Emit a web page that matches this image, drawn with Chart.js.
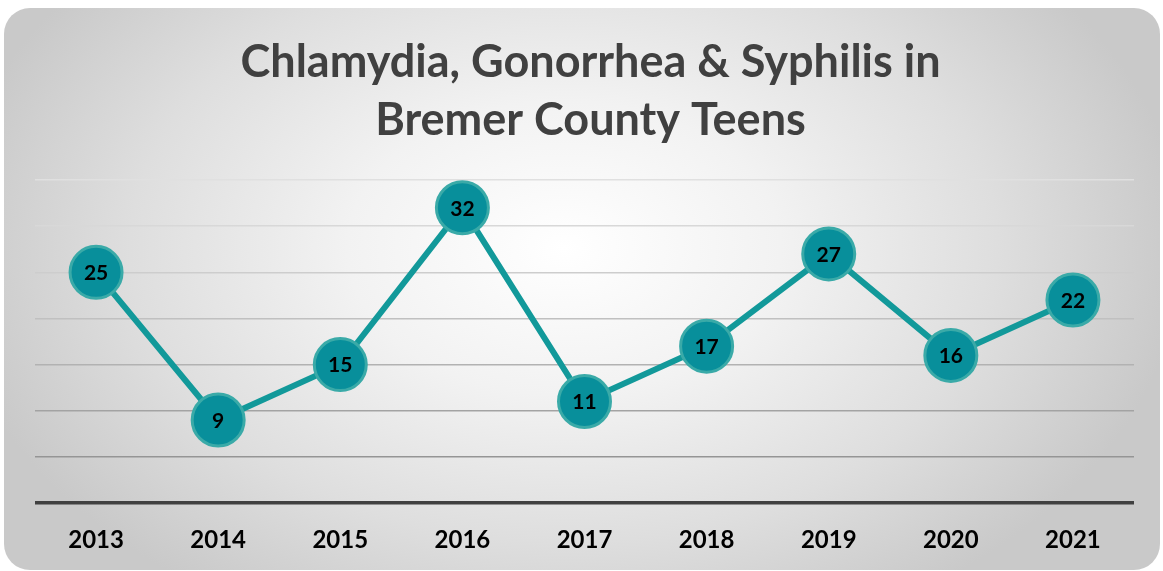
<!DOCTYPE html>
<html>
<head>
<meta charset="utf-8">
<script src="https://cdn.jsdelivr.net/npm/chart.js@4.4.1/dist/chart.umd.min.js"></script>
<style>
  html, body { margin: 0; padding: 0; background: #fff; }
  #wrap { position: relative; width: 1163px; height: 571px; overflow: hidden; }
  #card {
    position: absolute; left: 4px; top: 8px; width: 1156px; height: 562px;
    border-radius: 26px;
    background: radial-gradient(ellipse 620px 420px at 560px 240px, #ffffff 0%, #f2f2f2 35%, #dedede 70%, #c9c9c9 100%);
  }
  canvas { position: absolute; left: 0; top: 0; }
</style>
</head>
<body>
<div id="wrap">
  <div id="card"></div>
  <canvas id="myChart" width="1163" height="571"></canvas>
</div>
<script>
var years = ["2013", "2014", "2015", "2016", "2017", "2018", "2019", "2020", "2021"];
var cases = [25, 9, 15, 32, 11, 17, 27, 16, 22];
var titleLines = ["Chlamydia, Gonorrhea & Syphilis in", "Bremer County Teens"];

var fontFamily = 'Lato, "Open Sans", sans-serif';

// value labels drawn in the middle of each marker
var pointLabels = {
    id: 'pointLabels',
    afterDatasetsDraw: function(chart) {
        var c = chart.ctx;
        var meta = chart.getDatasetMeta(0);
        c.save();
        c.font = 'bold 21px ' + fontFamily;
        c.fillStyle = '#000';
        c.textAlign = 'center';
        c.textBaseline = 'middle';
        meta.data.forEach(function(pt, i) {
            c.fillText(String(cases[i]), pt.x, pt.y + 1);
        });
        c.restore();
    }
};

var gridShades = ['#404040', '#959595', '#a3a3a3', '#b2b2b2', '#c0c0c0', '#cdcdcd', '#d8d8d8', '#e0e0e0'];

var ctx = document.getElementById("myChart").getContext('2d');
var myLineChart = new Chart(ctx, {
    type: 'line',
    data: {
        labels: years,
        datasets: [{
            label: "Cases",
            data: cases,
            borderColor: "#12999a",
            borderWidth: 6,
            tension: 0,
            pointRadius: 26,
            pointHoverRadius: 26,
            pointBackgroundColor: "#088f9b",
            pointBorderColor: "#3aaaa8",
            pointBorderWidth: 3,
            fill: false
        }]
    },
    options: {
        responsive: false,
        animation: false,
        layout: {
            padding: { top: 33, left: 35, right: 17, bottom: 0 }
        },
        scales: {
            x: {
                offset: true,
                grid: { display: false },
                border: { display: false },
                ticks: {
                    color: '#000',
                    padding: 15,
                    font: { family: fontFamily, size: 24, weight: 'bold' }
                },
                afterFit: function(scale) { scale.height = 68; }
            },
            y: {
                min: 0,
                max: 35,
                ticks: { stepSize: 5, display: false },
                border: { display: false },
                grid: {
                    drawTicks: false,
                    lineWidth: function(c) { return c.index === 0 ? 3.5 : 1.5; },
                    color: function(c) { return gridShades[c.index] || '#e0e0e0'; }
                },
                afterFit: function(scale) { scale.width = 0; }
            }
        },
        plugins: {
            legend: { display: false },
            tooltip: { enabled: false },
            title: {
                display: true,
                text: titleLines,
                color: '#404040',
                font: { family: fontFamily, size: 45, weight: 'bold', lineHeight: 1.29 },
                padding: { top: 0, bottom: 31 }
            }
        }
    },
    plugins: [pointLabels]
});
</script>
</body>
</html>
